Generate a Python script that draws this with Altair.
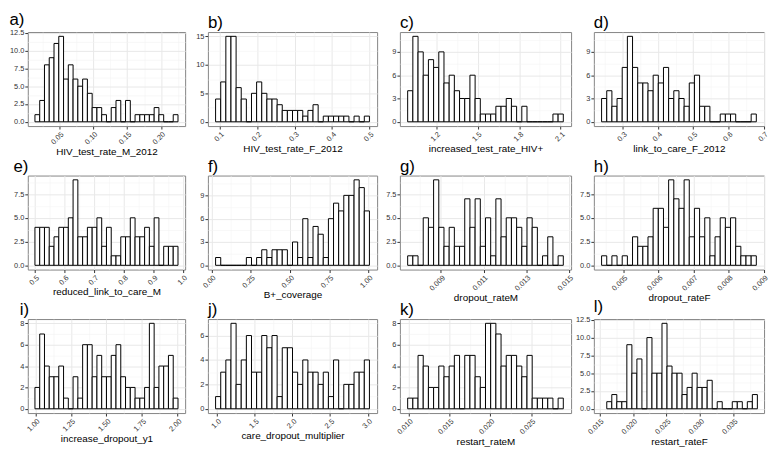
import json
import altair as alt
import numpy as np
import pandas as pd

FONT = "Liberation Sans"

# ---- data: 30-bin histograms (counts per bin) ----
a_counts = [1, 3, 8, 9, 11, 12, 6, 8, 6, 5, 6, 4, 2, 2, 1, 0, 2, 3, 0, 3, 0, 1, 1, 1, 1, 2, 1, 0, 0, 1]
b_counts = [4, 7, 15, 15, 6, 4, 0, 5, 7, 5, 4, 4, 3, 2, 2, 2, 2, 1, 2, 3, 0, 1, 1, 1, 1, 1, 0, 1, 0, 1]
c_counts = [4, 11, 9, 6, 8, 7, 9, 5, 6, 4, 3, 3, 6, 3, 1, 1, 1, 2, 2, 3, 2, 0, 2, 0, 0, 0, 0, 0, 1, 1]
d_counts = [3, 4, 2, 3, 7, 11, 7, 5, 5, 4, 6, 5, 7, 3, 4, 3, 2, 5, 6, 2, 2, 0, 0, 1, 1, 1, 0, 0, 0, 1]
e_counts = [4, 4, 4, 2, 3, 4, 4, 5, 9, 3, 3, 4, 4, 5, 2, 4, 1, 1, 3, 3, 5, 3, 3, 4, 2, 5, 0, 2, 2, 2]
f_counts = [1, 0, 0, 0, 0, 0, 1, 0, 1, 2, 1, 2, 2, 2, 0, 3, 1, 6, 1, 5, 4, 1, 6, 8, 7, 9, 9, 11, 10, 7]
g_counts = [1, 1, 0, 5, 4, 9, 4, 2, 4, 2, 2, 7, 4, 7, 2, 5, 1, 7, 3, 5, 5, 4, 2, 5, 4, 0, 1, 3, 0, 1]
h_counts = [1, 0, 1, 0, 1, 0, 3, 2, 2, 3, 6, 6, 4, 9, 7, 6, 9, 3, 6, 3, 5, 1, 3, 5, 4, 5, 2, 1, 1, 1]
i_counts = [2, 7, 4, 3, 3, 4, 1, 0, 3, 1, 6, 6, 3, 5, 3, 3, 5, 6, 3, 2, 2, 1, 1, 2, 8, 2, 4, 4, 5, 1]
j_counts = [1, 3, 4, 7, 2, 4, 6, 3, 3, 6, 5, 6, 1, 5, 5, 3, 2, 4, 3, 3, 2, 3, 1, 4, 0, 2, 2, 3, 3, 4]
k_counts = [1, 1, 5, 4, 2, 2, 4, 3, 4, 5, 0, 5, 5, 3, 2, 8, 8, 7, 4, 5, 5, 4, 3, 5, 1, 1, 1, 1, 0, 1]
l_counts = [1, 2, 1, 1, 9, 5, 7, 0, 10, 5, 5, 12, 6, 5, 5, 2, 3, 5, 3, 3, 4, 0, 1, 0, 0, 1, 1, 0, 1, 2]

# left edge of first bin, right edge of last bin
a_range = [0.0138, 0.225]
b_range = [0.0887, 0.500]
c_range = [0.995, 2.119]
d_range = [0.2398, 0.679]
e_range = [0.500, 0.983]
f_range = [0.026, 1.006]
g_range = [0.007441, 0.014737]
h_range = [0.004382, 0.00879]
i_range = [0.996, 2.004]
j_range = [0.983, 3.021]
k_range = [0.00988, 0.02894]
l_range = [0.01609, 0.03857]
l_xdomain = [0.01416, 0.03957]   # visible x extent of panel l

# x tick values and formats
a_xticks = [0.05, 0.10, 0.15, 0.20]
b_xticks = [0.1, 0.2, 0.3, 0.4, 0.5]
c_xticks = [1.2, 1.5, 1.8, 2.1]
d_xticks = [0.3, 0.4, 0.5, 0.6, 0.7]
e_xticks = [0.5, 0.6, 0.7, 0.8, 0.9, 1.0]
f_xticks = [0.0, 0.25, 0.5, 0.75, 1.0]
g_xticks = [0.009, 0.011, 0.013, 0.015]
h_xticks = [0.005, 0.006, 0.007, 0.008, 0.009]
i_xticks = [1.0, 1.25, 1.5, 1.75, 2.0]
j_xticks = [1.0, 1.5, 2.0, 2.5, 3.0]
k_xticks = [0.010, 0.015, 0.020, 0.025]
l_xticks = [0.015, 0.020, 0.025, 0.030, 0.035]

# y tick values
y_25_125 = [0, 2.5, 5.0, 7.5, 10.0, 12.5]
y_5_15 = [0, 5, 10, 15]
y_3_9 = [0, 3, 6, 9]
y_25_75 = [0, 2.5, 5.0, 7.5]
y_2_8 = [0, 2, 4, 6, 8]
y_2_6 = [0, 2, 4, 6]

names = ["HIV_test_rate_M_2012", "HIV_test_rate_F_2012", "increased_test_rate_HIV+", "link_to_care_F_2012",
         "reduced_link_to_care_M", "B+_coverage", "dropout_rateM", "dropout_rateF",
         "increase_dropout_y1", "care_dropout_multiplier", "restart_rateM", "restart_rateF"]
tags = ["a)", "b)", "c)", "d)", "e)", "f)", "g)", "h)", "i)", "j)", "k)", "l)"]
ids = ["pa", "pb", "pc", "pd", "pe", "pf", "pg", "ph", "pi", "pj", "pk", "pl"]

panels = [
    (a_counts, a_range, a_xticks, ".2f", y_25_125, ".1f", None),
    (b_counts, b_range, b_xticks, ".1f", y_5_15, "d", None),
    (c_counts, c_range, c_xticks, ".1f", y_3_9, "d", None),
    (d_counts, d_range, d_xticks, ".1f", y_3_9, "d", None),
    (e_counts, e_range, e_xticks, ".1f", y_25_75, ".1f", None),
    (f_counts, f_range, f_xticks, ".2f", y_3_9, "d", None),
    (g_counts, g_range, g_xticks, ".3f", y_25_75, ".1f", None),
    (h_counts, h_range, h_xticks, ".3f", y_25_75, ".1f", None),
    (i_counts, i_range, i_xticks, ".2f", y_2_8, "d", None),
    (j_counts, j_range, j_xticks, ".1f", y_2_6, "d", None),
    (k_counts, k_range, k_xticks, ".3f", y_2_8, "d", None),
    (l_counts, l_range, l_xticks, ".3f", y_25_125, ".1f", l_xdomain),
]

WIDTHS = [159, 171, 173, 172]
HEIGHT = 95


def minor_values(ticks, lo, hi):
    step = ticks[1] - ticks[0]
    cands = [ticks[0] - step / 2] + [t + step / 2 for t in ticks]
    return [round(c, 10) for c in cands if lo <= c <= hi]


def axis_with_minor(majors, minors, fmt, **kw):
    test = "indexof(%s, datum.value) < 0" % json.dumps(majors)
    return alt.Axis(
        values=majors + minors,
        labelExpr="indexof(%s, datum.value) >= 0 ? format(datum.value, '%s') : ''" % (json.dumps(majors), fmt),
        gridColor={"condition": {"test": test, "value": "#f3f3f3"}, "value": "#e8e8e8"},
        gridWidth={"condition": {"test": test, "value": 0.6}, "value": 1.0},
        tickOpacity={"condition": {"test": test, "value": 0}, "value": 1},
        labelOverlap=False,
        labelFlush=False,
        **kw,
    )


def panel(idx):
    counts, rng, xt, xfmt, yt, yfmt, xdom_override = panels[idx]
    lo, hi = rng
    edges = np.linspace(lo, hi, len(counts) + 1)
    df = pd.DataFrame({"x0": edges[:-1], "x1": edges[1:], "n": counts})
    pad = 0.05 * (hi - lo)
    xdom = list(xdom_override) if xdom_override else [lo - pad, hi + pad]
    ymax = max(counts)
    ydom = [-0.05 * ymax, 1.05 * ymax]
    col = idx % 4
    xaxis = axis_with_minor(list(xt), minor_values(xt, *xdom), xfmt,
                            title=names[idx], labelAngle=-45, labelAlign="right",
                            labelBaseline="top")
    yaxis = axis_with_minor(list(yt), minor_values(yt, *ydom), yfmt, title=None)
    title = alt.TitleParams(text=tags[idx], anchor="start",
                            frame="bounds" if col == 0 else "group",
                            font=FONT, fontSize=17, fontWeight="normal",
                            color="black", offset=0)
    return alt.Chart(df, name=ids[idx]).mark_rect(fill="white", stroke="black", strokeWidth=1).encode(
        x=alt.X("x0:Q", scale=alt.Scale(domain=xdom, nice=False, zero=False), axis=xaxis),
        x2="x1:Q",
        y=alt.Y("n:Q", scale=alt.Scale(domain=ydom, nice=False, zero=False), axis=yaxis),
        y2=alt.datum(0),
    ).properties(width=WIDTHS[col], height=HEIGHT, title=title)


chart = alt.concat(
    *[panel(i) for i in range(12)],
    columns=4, spacing={"row": 50, "column": 23}, bounds="flush", align="each",
).properties(padding=0).configure_view(
    stroke="#858585", strokeWidth=1
).configure_axis(
    labelFont=FONT, labelFontSize=7.5, labelColor="#333333",
    titleFont=FONT, titleFontSize=10, titleColor="black", titleFontWeight="normal",
    domain=False, tickColor="#333333", tickSize=3, labelPadding=1, titlePadding=1,
)

chart.save("out.html", embed_options={"renderer": "svg", "actions": False})
